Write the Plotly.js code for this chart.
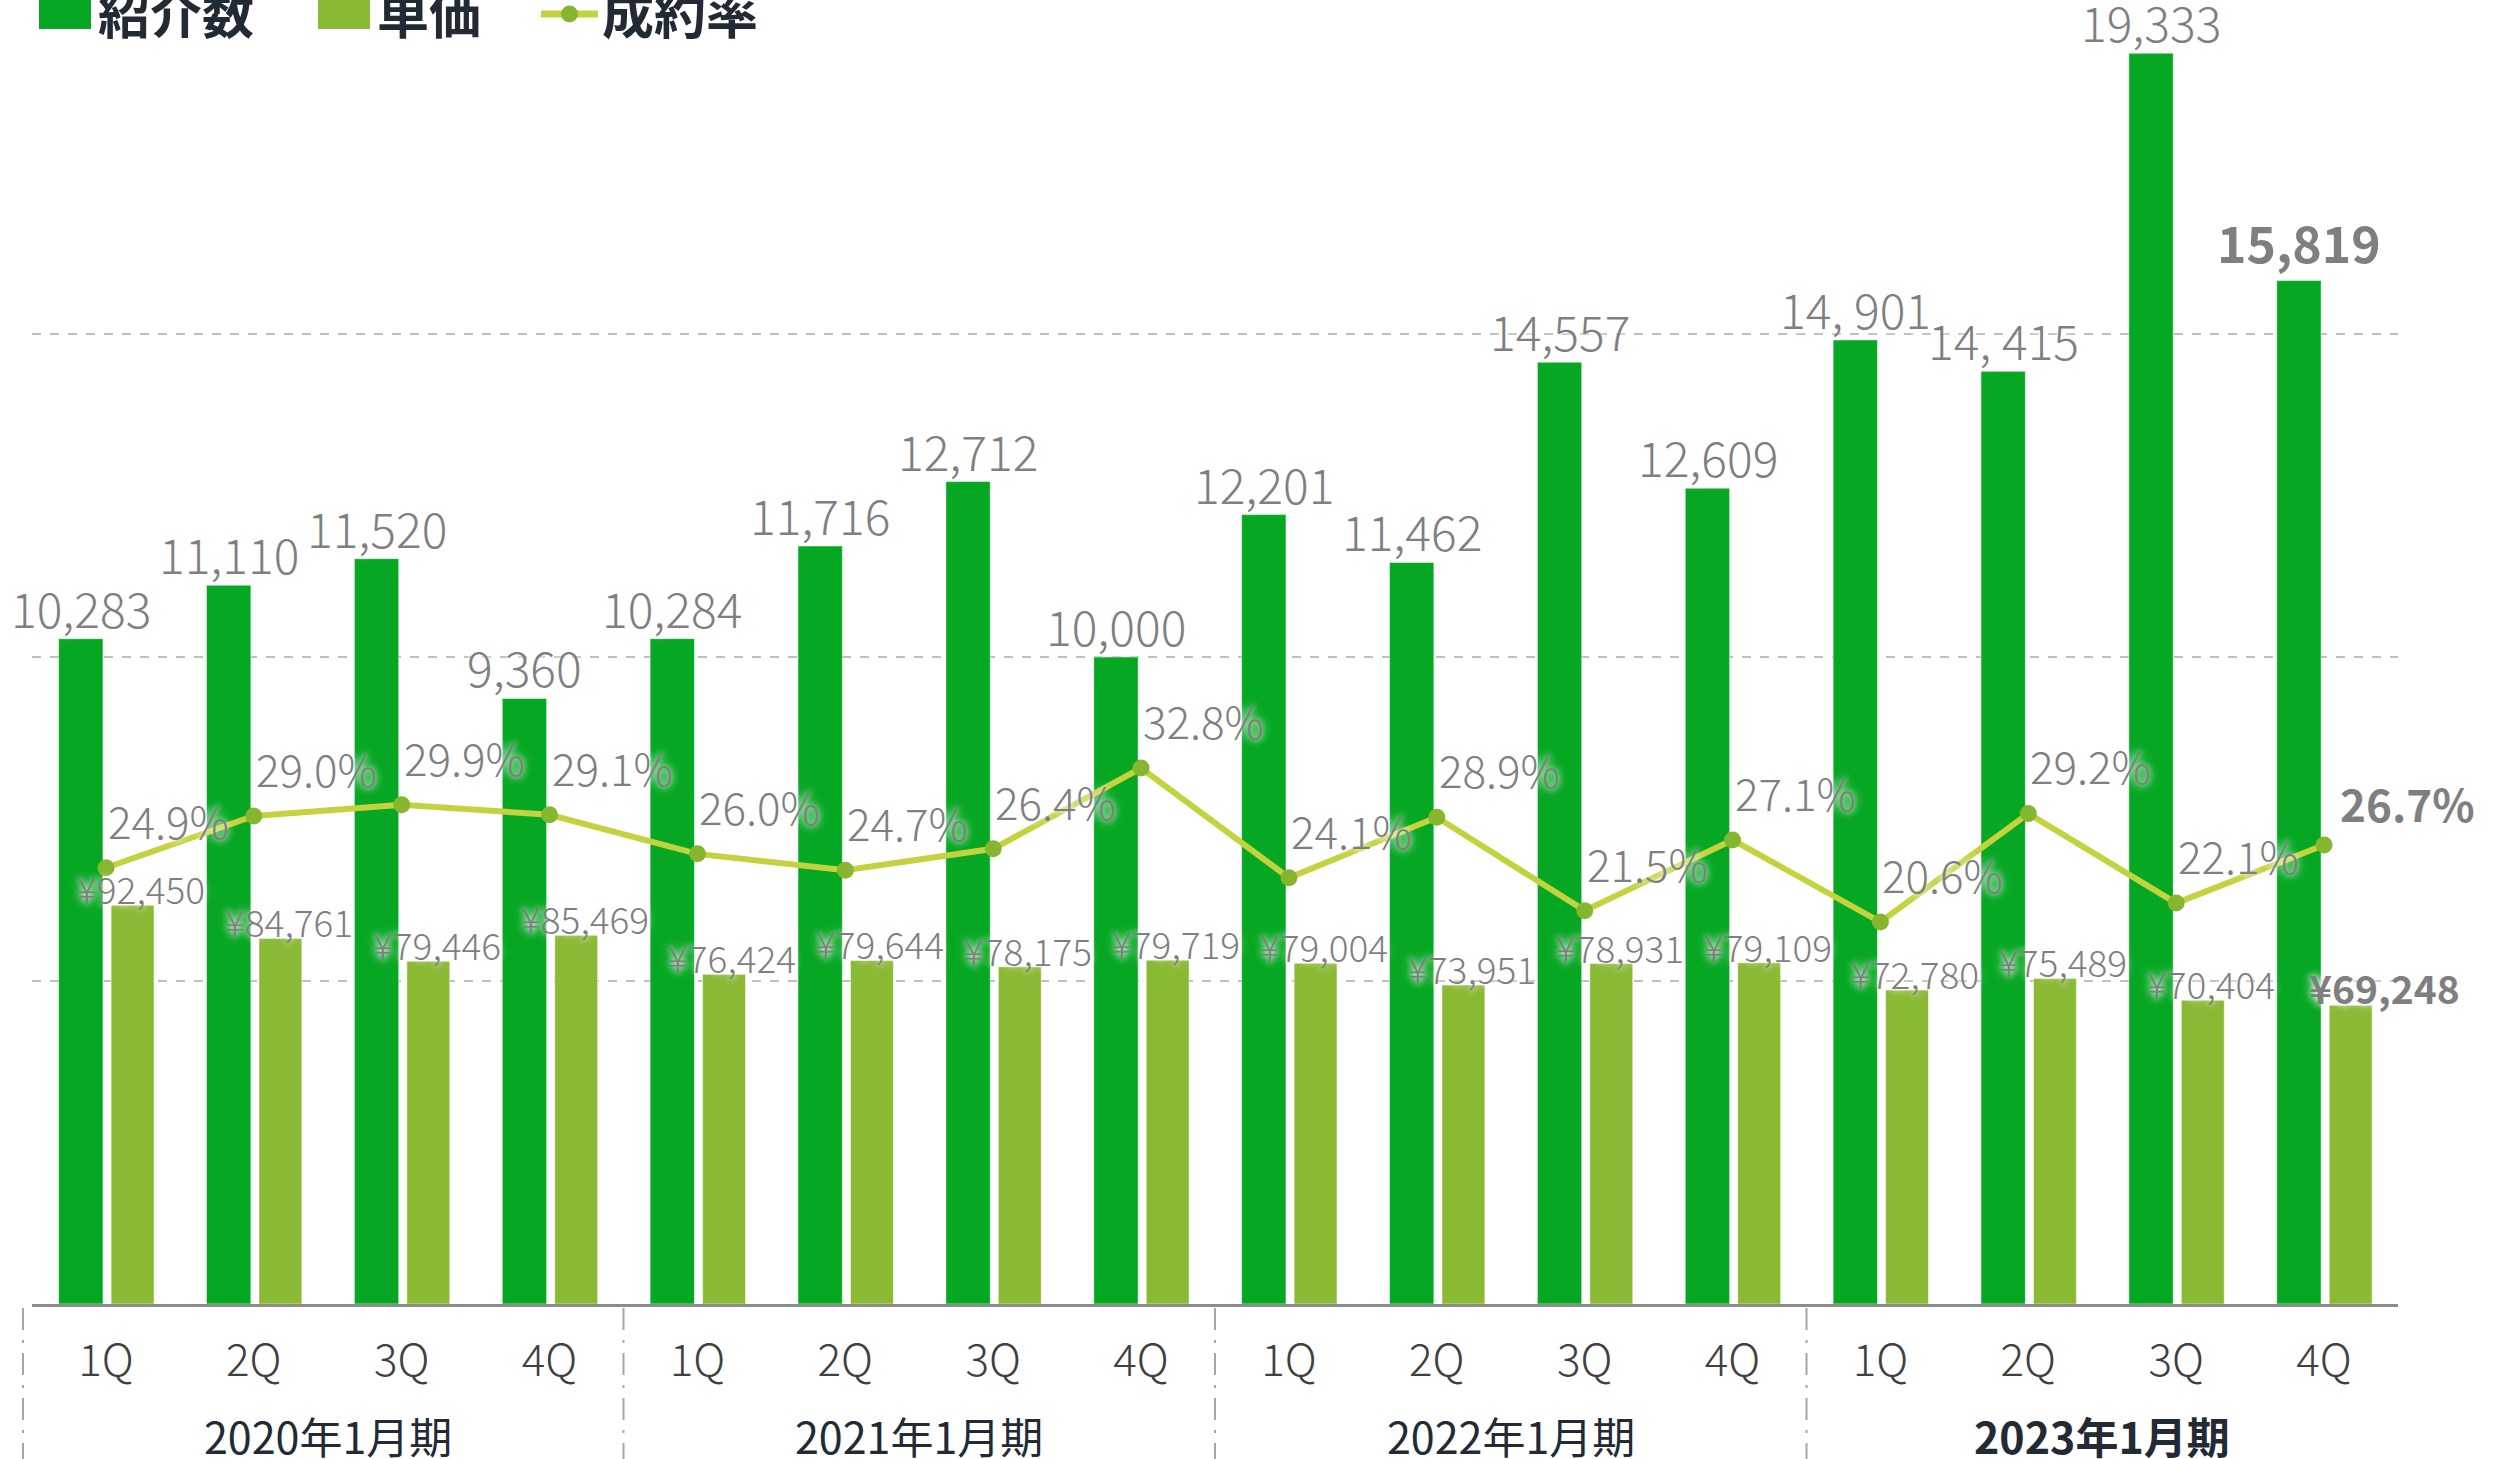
<!DOCTYPE html>
<html><head><meta charset="utf-8">
<script src="https://cdn.plot.ly/plotly-3.0.1.min.js"></script>
<style>html,body{margin:0;padding:0;background:#fff;overflow:hidden}</style>
</head><body><div id="chart" style="width:2493px;height:1459px"></div>
<script>
// ---- data ----
const fiscalYears = ['2020年1月期','2020年1月期','2020年1月期','2020年1月期',
                     '2021年1月期','2021年1月期','2021年1月期','2021年1月期',
                     '2022年1月期','2022年1月期','2022年1月期','2022年1月期',
                     '2023年1月期','2023年1月期','2023年1月期','2023年1月期'];
const quarters = ['1Q','2Q','3Q','4Q','1Q','2Q','3Q','4Q','1Q','2Q','3Q','4Q','1Q','2Q','3Q','4Q'];
const yearGroups = ['2020年1月期','2021年1月期','2022年1月期','2023年1月期'];
const introductions = [10283,11110,11520,9360,10284,11716,12712,10000,12201,11462,14557,12609,14901,14415,19333,15819];
const introLabels = ['10,283','11,110','11,520','9,360','10,284','11,716','12,712','10,000','12,201','11,462','14,557','12,609','14, 901','14, 415','19,333','15,819'];
const unitPrices = [92450,84761,79446,85469,76424,79644,78175,79719,79004,73951,78931,79109,72780,75489,70404,69248];
const closeRates = [24.9,29.0,29.9,29.1,26.0,24.7,26.4,32.8,24.1,28.9,21.5,27.1,20.6,29.2,22.1,26.7];
const seriesNames = ['紹介数','単価','成約率'];

// ---- layout helpers ----
const W = 2493, H = 1459;
const M = {l:32, r:95, t:10, b:155};
const PW = W - M.l - M.r, PH = H - M.t - M.b;
const px = x => (x - M.l) / PW;          // pixel -> paper x
const py = y => (H - M.b - y) / PH;      // pixel -> paper y

const n = quarters.length;
const last = n - 1;
const keys = quarters.map((q,i) => fiscalYears[i] + ' ' + q);
const bold = (s,i) => i === last ? '<b>' + s + '</b>' : s;

const C_INTRO = '#06a723', C_PRICE = '#8ab934', C_LINE = '#c4d23f', C_MARK = '#86b62f';
const C_LABEL = '#7f7f7f', C_DARK = '#222a35';
const numFont = 'Noto Sans CJK JP, sans-serif';
const jpFont = 'Noto Sans CJK JP, sans-serif';
const glow = '0px 0px 6px rgba(255,255,255,0.95), 0px 0px 12px rgba(255,255,255,0.7)';

const traces = [
  {type:'bar', name:seriesNames[0], x:keys, y:introductions, yaxis:'y',
   offset:-0.32, width:0.30,
   marker:{color:C_INTRO, line:{color:'rgba(255,255,255,0.5)', width:1}},
   hoverinfo:'skip', showlegend:false},
  {type:'bar', name:seriesNames[1], x:keys, y:unitPrices, yaxis:'y2',
   offset:0.035, width:0.29,
   marker:{color:C_PRICE, line:{color:'rgba(255,255,255,0.5)', width:1}},
   hoverinfo:'skip', showlegend:false},
  {type:'scatter', mode:'lines+markers', name:seriesNames[2], x:keys, y:closeRates, yaxis:'y3',
   line:{color:C_LINE, width:6}, marker:{color:C_MARK, size:17},
   cliponaxis:false, hoverinfo:'skip', showlegend:false}
];

const annotations = [];
introductions.forEach((v,i) => annotations.push({
  xref:'x', yref:'y', x:keys[i], y:v, text: bold(introLabels[i], i),
  showarrow:false, xanchor:'center', yanchor:'bottom', xshift:-25, yshift: i === last ? 2 : -5,
  font:{family:numFont, size: i === last ? 50 : 48, weight:300, color:C_LABEL, shadow:glow}
}));
unitPrices.forEach((v,i) => annotations.push({
  xref:'x', yref:'y2', x:keys[i], y:v, text: bold('¥' + v.toLocaleString('en-US'), i),
  showarrow:false, xanchor:'center', yanchor:'bottom', xshift: i === last ? 60 : 35, yshift:-12,
  font:{family:numFont, size: i === last ? 39 : 37, weight:300, color:C_LABEL, shadow:glow}
}));
closeRates.forEach((v,i) => annotations.push({
  xref:'x', yref:'y3', x:keys[i], y:v, text: bold(v.toFixed(1) + '%', i),
  showarrow:false, xanchor:'left', yanchor:'bottom', xshift: i === last ? 14 : 0, yshift: i === last ? 8 : 14,
  font:{family:numFont, size:44, weight:300, color:C_LABEL, shadow:glow}
}));
yearGroups.forEach((g,gi) => {
  const idx = fiscalYears.map((f,i) => f === g ? i : -1).filter(i => i >= 0);
  const mid = (idx[0] + idx[idx.length-1]) / 2;
  annotations.push({
    xref:'x', yref:'paper', x:mid, y:py(1435), text: gi === yearGroups.length-1 ? '<b>'+g+'</b>' : g,
    showarrow:false, xanchor:'center', yanchor:'middle',
    font:{family:numFont, size:43, color:C_DARK}
  });
});

// custom legend
const shapes = [];
const legendItems = [
  {kind:'box', color:C_INTRO, x0:39, x1:91, tx:96, label:seriesNames[0]},
  {kind:'box', color:C_PRICE, x0:318, x1:370, tx:375, label:seriesNames[1]},
  {kind:'line', color:C_LINE, x0:541, x1:598, tx:600, label:seriesNames[2]}
];
legendItems.forEach(it => {
  if (it.kind === 'box') {
    shapes.push({type:'rect', xref:'paper', yref:'paper', x0:px(it.x0), x1:px(it.x1), y0:py(29), y1:py(-23),
      fillcolor:it.color, line:{width:0}});
  } else {
    shapes.push({type:'line', xref:'paper', yref:'paper', x0:px(it.x0), x1:px(it.x1), y0:py(14), y1:py(14),
      line:{color:it.color, width:7}});
    shapes.push({type:'circle', xref:'paper', yref:'paper', x0:px(561), x1:px(578), y0:py(22.5), y1:py(5.5),
      fillcolor:C_MARK, line:{width:0}});
  }
  annotations.push({xref:'paper', yref:'paper', x:px(it.tx), y:py(12), text:'<b>'+it.label+'</b>',
    showarrow:false, xanchor:'left', yanchor:'middle', font:{family:jpFont, size:52, color:C_DARK}});
});

// group separators (dash-dot) below the axis
const sepLine = {color:'#a6a6a6', width:2, dash:'22px,10px,3px,10px'};
shapes.push({type:'line', xref:'paper', yref:'paper', x0:px(23), x1:px(23), y0:py(1308), y1:py(1459), line:sepLine});
[3.5, 7.5, 11.5].forEach(xv => shapes.push({
  type:'line', xref:'x', yref:'paper', x0:xv, x1:xv, y0:py(1308), y1:py(1459), line:sepLine
}));

const layout = {
  width:W, height:H, margin:Object.assign({autoexpand:false, pad:0}, M),
  paper_bgcolor:'#ffffff', plot_bgcolor:'#ffffff',
  barmode:'overlay', showlegend:false,
  xaxis:{type:'category', range:[-0.5, n-0.5], tickvals:keys, ticktext:quarters, showgrid:false, zeroline:false,
    showline:true, linecolor:'#8c8c8c', linewidth:3, ticks:'', ticklabelstandoff:16,
    tickfont:{family:numFont, size:44, weight:300, color:'#404040'}, fixedrange:true},
  yaxis:{range:[0,20000], tickvals:[5000,10000,15000], showticklabels:false, showgrid:true,
    gridcolor:'#bfbfbf', gridwidth:2, griddash:'dash', zeroline:false, showline:false, ticks:''},
  yaxis2:{overlaying:'y', range:[0,300000], visible:false},
  yaxis3:{overlaying:'y', range:[-9.67,92.87], visible:false},
  annotations: annotations,
  shapes: shapes
};

Plotly.newPlot('chart', traces, layout, {staticPlot:true, displayModeBar:false});
</script>
</body></html>
